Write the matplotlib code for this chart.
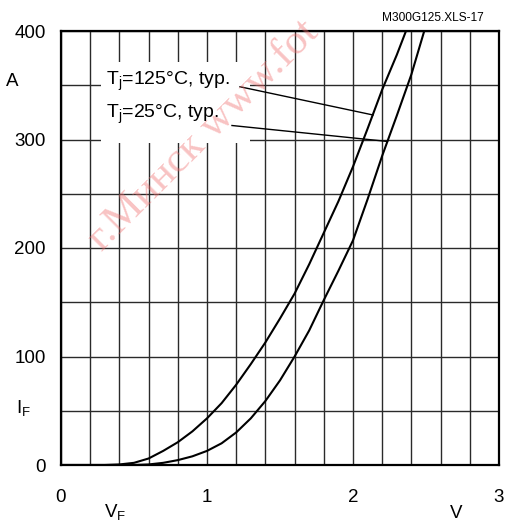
import matplotlib
matplotlib.use("Agg")
import matplotlib.pyplot as plt
import numpy as np
from matplotlib.patches import Rectangle

plt.rcParams["font.family"] = ["Liberation Sans", "DejaVu Sans"]
plt.rcParams["mathtext.fontset"] = "custom"
plt.rcParams["mathtext.rm"] = "Liberation Sans"
plt.rcParams["mathtext.it"] = "Liberation Sans:italic"

# Forward characteristic of the diode, I_F versus V_F
vf_125 = [0.0, 0.3, 0.4, 0.5, 0.6, 0.7, 0.8, 0.9, 1.0, 1.1, 1.2, 1.3, 1.4, 1.5,
          1.6, 1.7, 1.8, 1.9, 2.0, 2.1, 2.2, 2.3, 2.363]
if_125 = [0, 0, 0.5, 2, 6, 13, 21, 31, 43, 57, 74, 93, 113, 135,
          158, 185, 214, 243, 275, 310, 346, 378, 400]

vf_25 = [0.0, 0.5, 0.6, 0.7, 0.8, 0.9, 1.0, 1.1, 1.2, 1.3, 1.4, 1.5, 1.6, 1.7,
         1.8, 1.9, 2.0, 2.1, 2.2, 2.3, 2.4, 2.488]
if_25 = [0, 0, 0.5, 2, 4.5, 8, 13, 20, 30, 43, 59, 78, 100, 124,
         152, 179, 207, 245, 285, 322, 360, 400]

x_ticks = [0, 1, 2, 3]
y_ticks = [0, 100, 200, 300, 400]
labels = ["T$_\\mathrm{j}$=125°C, typ.", "T$_\\mathrm{j}$=25°C, typ."]

W, H = 506, 523
fig = plt.figure(figsize=(W / 100, H / 100), dpi=100)
ax = fig.add_axes([61 / W, 58 / H, 438 / W, 434 / H])

ax.set_xlim(0, 3)
ax.set_ylim(0, 400)
ax.set_xticks(x_ticks)
ax.set_yticks(y_ticks)
ax.set_xticks(np.arange(0, 3.001, 0.2), minor=True)
ax.set_yticks(np.arange(0, 401, 50), minor=True)
ax.grid(which="both", color="#2a2a2a", lw=1.0, zorder=1)
ax.set_axisbelow(True)
ax.tick_params(which="both", length=0, labelsize=13.5)
ax.tick_params(axis="y", pad=11)
ax.tick_params(axis="x", pad=17)
for s in ax.spines.values():
    s.set_linewidth(1.6)
    s.set_color("black")

# curves
ax.plot(vf_125, if_125, color="black", lw=1.5, zorder=4)
ax.plot(vf_25, if_25, color="black", lw=1.5, zorder=4)

# white label panel over the grid
ax.add_patch(Rectangle((0.274, 297), 1.295 - 0.274, 371 - 297,
                       facecolor="white", edgecolor="none", zorder=2))
ax.text(0.31, 350, labels[0], fontsize=14, ha="left", va="baseline", zorder=5)
ax.text(0.31, 320, labels[1], fontsize=14, ha="left", va="baseline", zorder=5)
ax.plot([1.226, 2.137], [348.6, 322.6], color="black", lw=1.0, zorder=5)
ax.plot([1.171, 2.236], [312.9, 298.2], color="black", lw=1.0, zorder=5)

# axis captions
fig.text(12.5 / W, 1 - 81.5 / H, "A", fontsize=13.5, ha="center", va="center")
fig.text(16 / W, 1 - 413 / H, "I$_\\mathrm{F}$", fontsize=13.5, ha="left", va="baseline")
fig.text(104 / W, 1 - 517 / H, "V$_\\mathrm{F}$", fontsize=13.5, ha="left", va="baseline")
fig.text(456 / W, 1 - 518 / H, "V", fontsize=13.5, ha="center", va="baseline")
fig.text(484 / W, 1 - 21 / H, "M300G125.XLS-17", fontsize=8.6, ha="right", va="baseline")

# watermark
fig.text(102 / W, 1 - 252 / H, "г.Минск www.fot", fontsize=31,
         family=["Liberation Serif", "DejaVu Serif"], color="#f07070", alpha=0.42,
         rotation=45, rotation_mode="anchor", ha="left", va="baseline", zorder=6)

fig.savefig("out.png", dpi=100)
